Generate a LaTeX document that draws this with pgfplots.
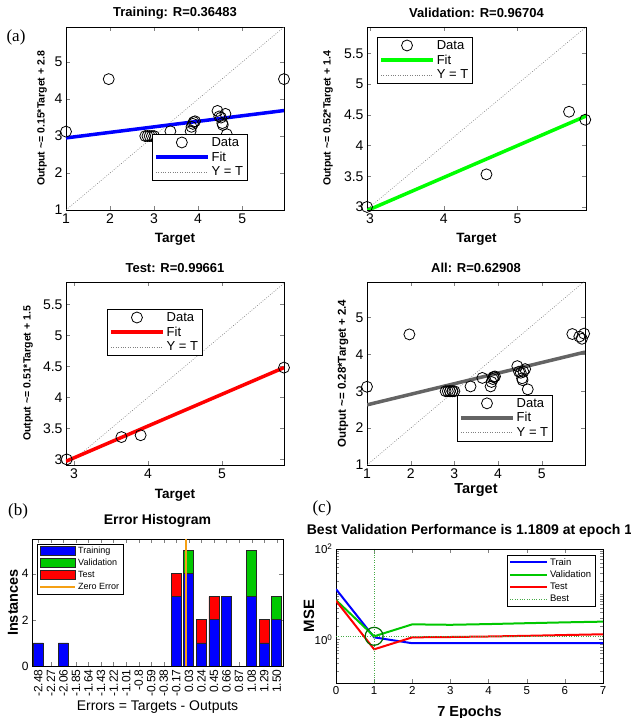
\documentclass[border=0pt]{standalone}
\usepackage{pgfplots}
\pgfplotsset{compat=1.18}
\usepackage{fontspec}
\setmainfont{Liberation Sans}
\newfontfamily\serifpanel{Liberation Serif}

\definecolor{mblue}{RGB}{0,0,255}
\definecolor{mgreen}{RGB}{0,255,0}
\definecolor{hgreen}{RGB}{0,200,0}
\definecolor{mred}{RGB}{255,0,0}
\definecolor{mgray}{RGB}{100,100,100}
\definecolor{morange}{RGB}{245,160,20}
\definecolor{bestgreen}{RGB}{70,170,70}
\definecolor{circgreen}{RGB}{0,110,0}

\pgfplotsset{
  reg/.style={
    scale only axis, width=218pt, height=183pt, anchor=south west,
    /pgf/number format/assume math mode=true,
    tick label style={font=\fontsize{14}{16}\selectfont},
    title style={font=\bfseries\fontsize{13}{15}\selectfont, at={(axis description cs:0.5,1.044)}, anchor=center},
    xlabel style={font=\bfseries\fontsize{13.5}{15}\selectfont, at={(axis description cs:0.5,-0.158)}, anchor=center},
    ylabel style={font=\bfseries\fontsize{10.5}{12}\selectfont, anchor=center},
    legend style={font=\fontsize{13}{14}\selectfont, draw=black, anchor=north west, inner xsep=2pt, inner ysep=1pt},
    legend cell align=left,
    legend image code/.code={\draw[mark repeat=2,mark phase=2,##1] plot coordinates {(0pt,0pt) (26pt,0pt) (52pt,0pt)};},
    axis line style={line width=0.6pt},
  },
  datam/.style={only marks, mark=o, mark size=5.5pt, black, line width=0.8pt},
  yeqt/.style={gray, line width=0.6pt, dash pattern=on 0.8pt off 1.6pt},
  hpatch/.style={draw=black!85, line width=0.8pt, legend image code/.code={\draw[##1] (0pt,-4.5pt) rectangle (35pt,4.5pt);}},
  hline/.style={legend image code/.code={\draw[##1] (0pt,0pt) -- (35pt,0pt);}},
  pline/.style={legend image code/.code={\draw[##1] (0pt,0pt) -- (37pt,0pt);}},
}

\begin{document}
\begin{tikzpicture}[x=1pt,y=1pt]

% (a) Training
\begin{axis}[reg, at={(66pt,508pt)},
  xmin=1, xmax=5.95, ymin=1, ymax=5.95, xtick={1,2,3,4,5}, ytick={1,2,3,4,5},
  title={Training: R=0.36483}, xlabel={Target},
  ylabel={Output \textasciitilde= 0.15*Target + 2.8},
  ylabel style={at={(axis description cs:-0.11,0.5)}},
  legend style={at={(axis description cs:0.394,0.415)}}]
\addplot[yeqt, forget plot] coordinates {(1,1) (5.95,5.95)};
\addplot[mblue, line width=3.5pt, forget plot] coordinates {(1,2.95) (5.95,3.69)};
\addplot[datam, forget plot] coordinates {
  (1,3.12) (1.97,4.54) (5.95,4.54) (2.8,3.0) (2.85,3.0) (2.9,3.0) (2.95,3.0) (3.0,3.0)
  (3.37,3.13) (3.83,3.13) (3.85,3.25) (3.88,3.33) (3.9,3.38) (3.93,3.4)
  (4.44,3.68) (4.48,3.53) (4.52,3.5) (4.55,3.35) (4.56,3.3) (4.62,3.6) (4.65,3.05)};
\addlegendimage{datam}\addlegendentry{Data}
\addlegendimage{mblue, line width=3.5pt}\addlegendentry{Fit}
\addlegendimage{yeqt}\addlegendentry{Y = T}
\end{axis}

% Validation
\begin{axis}[reg, at={(367pt,508pt)}, width=219pt,
  xmin=2.96, xmax=5.93, ymin=2.95, ymax=5.93, xtick={3,4,5}, ytick={3,3.5,4,4.5,5,5.5},
  title={Validation: R=0.96704}, xlabel={Target},
  ylabel={Output \textasciitilde= 0.52*Target + 1.4},
  ylabel style={at={(axis description cs:-0.178,0.5)}},
  legend style={at={(axis description cs:0.046,0.945)}}]
\addplot[yeqt, forget plot] coordinates {(2.95,2.95) (5.93,5.93)};
\addplot[mgreen, line width=3.5pt, forget plot] coordinates {(2.96,2.94) (5.93,4.48)};
\addplot[datam, forget plot] coordinates {(2.96,3.0) (4.58,3.53) (5.7,4.55) (5.92,4.42)};
\addlegendimage{datam}\addlegendentry{Data}
\addlegendimage{mgreen, line width=3.5pt}\addlegendentry{Fit}
\addlegendimage{yeqt}\addlegendentry{Y = T}
\end{axis}

% Test
\begin{axis}[reg, at={(66pt,253pt)},
  xmin=2.89, xmax=5.84, ymin=2.91, ymax=5.86, xtick={3,4,5}, ytick={3,3.5,4,4.5,5,5.5},
  title={Test: R=0.99661}, xlabel={Target},
  ylabel={Output \textasciitilde= 0.51*Target + 1.5},
  xlabel style={at={(axis description cs:0.5,-0.164)}},
  ylabel style={at={(axis description cs:-0.174,0.5)}},
  legend style={at={(axis description cs:0.188,0.852)}}]
\addplot[yeqt, forget plot] coordinates {(2.89,2.89) (5.86,5.86)};
\addplot[mred, line width=3.5pt, forget plot] coordinates {(2.89,2.97) (5.84,4.48)};
\addplot[datam, forget plot] coordinates {(2.9,3.0) (3.64,3.36) (3.9,3.39) (5.84,4.48)};
\addlegendimage{datam}\addlegendentry{Data}
\addlegendimage{mred, line width=3.5pt}\addlegendentry{Fit}
\addlegendimage{yeqt}\addlegendentry{Y = T}
\end{axis}

% All
\begin{axis}[reg, at={(367pt,253pt)},
  xmin=1, xmax=5.99, ymin=1, ymax=5.96, xtick={1,2,3,4,5}, ytick={1,2,3,4,5},
  title={All: R=0.62908}, xlabel={Target},
  ylabel={Output \textasciitilde= 0.28*Target + 2.4},
  xlabel style={at={(axis description cs:0.5,-0.137)}, font=\bfseries\fontsize{14.5}{16}\selectfont},
  ylabel style={at={(axis description cs:-0.11,0.5)}, font=\bfseries\fontsize{11.5}{13}\selectfont},
  legend style={at={(axis description cs:0.413,0.383)}}]
\addplot[yeqt, forget plot] coordinates {(1,1) (5.99,5.99)};
\addplot[mgray, line width=3.5pt, forget plot] coordinates {(1,2.63) (5.99,4.06)};
\addplot[datam, forget plot] coordinates {
  (1,3.12) (1.97,4.54) (5.97,4.56) (2.8,3.0) (2.85,3.0) (2.9,3.0) (2.95,3.0) (3.0,3.0)
  (3.37,3.13) (3.83,3.13) (3.85,3.25) (3.88,3.33) (3.9,3.38) (3.93,3.4)
  (4.44,3.68) (4.48,3.53) (4.52,3.5) (4.55,3.35) (4.56,3.3) (4.62,3.6) (4.68,3.05)
  (2.96,3.0) (4.58,3.53) (5.7,4.55) (5.92,4.42)
  (2.9,3.0) (3.64,3.36) (3.9,3.39) (5.86,4.48)};
\addlegendimage{datam}\addlegendentry{Data}
\addlegendimage{mgray, line width=3.5pt}\addlegendentry{Fit}
\addlegendimage{yeqt}\addlegendentry{Y = T}
\end{axis}

% (b) Error histogram
\begin{axis}[scale only axis, at={(32pt,52pt)}, anchor=south west, width=251pt, height=127pt,
  xmin=-0.5, xmax=19.5, ymin=0, ymax=5.5,
  ybar stacked, bar width=0.8,
  xtick={0,...,19},
  xticklabels={-2.48,-2.27,-2.06,-1.85,-1.64,-1.43,-1.22,-1.01,-0.8,-0.59,-0.38,-0.17,0.03,0.24,0.45,0.66,0.87,1.08,1.29,1.50},
  x tick label style={rotate=90, anchor=east, font=\fontsize{12}{13}\selectfont},
  y tick label style={font=\fontsize{12}{13}\selectfont},
  ytick={0,2,4},
  /pgf/number format/assume math mode=true,
  title={Error Histogram},
  title style={font=\bfseries\fontsize{14}{16}\selectfont, at={(axis description cs:0.5,1.094)}, anchor=center},
  xlabel={Errors = Targets - Outputs},
  xlabel style={font=\fontsize{14}{16}\selectfont, at={(axis description cs:0.5,-0.323)}, anchor=center},
  ylabel={Instances},
  ylabel style={font=\bfseries\fontsize{14.5}{16}\selectfont, at={(axis description cs:-0.076,0.5)}, anchor=center},
  legend style={at={(axis description cs:0.02,0.96)}, anchor=north west, font=\fontsize{9}{10}\selectfont, draw=black, inner xsep=2pt, inner ysep=1pt},
  legend cell align=left]
\addplot[hpatch, fill=mblue] coordinates {
  (0,1) (1,0) (2,1) (3,0) (4,0) (5,0) (6,0) (7,0) (8,0) (9,0)
  (10,0) (11,3) (12,4) (13,1) (14,2) (15,3) (16,0) (17,3) (18,1) (19,2)};
\addlegendentry{Training}
\addplot[hpatch, fill=hgreen] coordinates {
  (0,0) (1,0) (2,0) (3,0) (4,0) (5,0) (6,0) (7,0) (8,0) (9,0)
  (10,0) (11,0) (12,1) (13,0) (14,0) (15,0) (16,0) (17,2) (18,0) (19,1)};
\addlegendentry{Validation}
\addplot[hpatch, fill=mred] coordinates {
  (0,0) (1,0) (2,0) (3,0) (4,0) (5,0) (6,0) (7,0) (8,0) (9,0)
  (10,0) (11,1) (12,0) (13,1) (14,1) (15,0) (16,0) (17,0) (18,1) (19,0)};
\addlegendentry{Test}
\addlegendimage{hline, morange, line width=2pt}
\addlegendentry{Zero Error}
\end{axis}
\begin{axis}[scale only axis, at={(32pt,52pt)}, anchor=south west, width=251pt, height=127pt,
  xmin=-0.5, xmax=19.5, ymin=0, ymax=5.5, hide axis]
\addplot[morange, line width=2pt] coordinates {(11.81,0) (11.81,5.5)};
\end{axis}

% (c) Performance
\begin{axis}[scale only axis, at={(336pt,35pt)}, anchor=south west, width=267pt, height=134pt,
  xmin=0, xmax=7, ymode=log, ymin=0.11, ymax=100,
  xtick={0,...,7}, ytick={1,100},
  yticklabels={10\textsuperscript{0},10\textsuperscript{2}},
  minor ytick={0.2,0.3,0.4,0.5,0.6,0.7,0.8,0.9,2,3,4,5,6,7,8,9,10,20,30,40,50,60,70,80,90},
  tick label style={font=\fontsize{11.5}{13}\selectfont},
  /pgf/number format/assume math mode=true,
  title={Best Validation Performance is 1.1809 at epoch 1},
  title style={font=\bfseries\fontsize{14}{16}\selectfont, at={(axis description cs:0.5,1.09)}, anchor=center},
  xlabel={7 Epochs},
  xlabel style={font=\bfseries\fontsize{14.5}{16}\selectfont, at={(axis description cs:0.5,-0.22)}, anchor=center},
  ylabel={MSE},
  ylabel style={font=\bfseries\fontsize{15}{17}\selectfont, at={(axis description cs:-0.101,0.5)}, anchor=center},
  legend style={at={(axis description cs:0.64,0.955)}, anchor=north west, font=\fontsize{9.5}{11}\selectfont, draw=black, inner xsep=2pt, inner ysep=1pt},
  legend cell align=left]
\addplot[pline, mblue, line width=2pt] coordinates {(0,13) (1,1.12) (2,0.83) (3,0.83) (4,0.83) (5,0.83) (6,0.83) (7,0.83)};
\addlegendentry{Train}
\addplot[pline, hgreen, line width=2pt] coordinates {(0,7.45) (1,1.1809) (2,2.17) (3,2.12) (4,2.2) (5,2.3) (6,2.4) (7,2.49)};
\addlegendentry{Validation}
\addplot[pline, mred, line width=2pt] coordinates {(0,7.2) (1,0.61) (2,1.12) (3,1.14) (4,1.17) (5,1.21) (6,1.26) (7,1.31)};
\addlegendentry{Test}
\addplot[pline, bestgreen, line width=0.6pt, dash pattern=on 0.8pt off 1.6pt] coordinates {(1,0.11) (1,100)};
\addlegendentry{Best}
\addplot[bestgreen, line width=0.6pt, dash pattern=on 0.8pt off 1.6pt, forget plot] coordinates {(0,1.1809) (7,1.1809)};
\addplot[only marks, mark=o, mark size=9pt, draw=circgreen, line width=1.2pt, forget plot] coordinates {(1,1.1809)};
\end{axis}

\node[font=\serifpanel\fontsize{17}{19}\selectfont] at (16pt,681pt) {(a)};
\node[font=\serifpanel\fontsize{17}{19}\selectfont] at (18pt,207pt) {(b)};
\node[font=\serifpanel\fontsize{17}{19}\selectfont] at (322pt,210pt) {(c)};

\pgfresetboundingbox
\path[use as bounding box] (0pt,0pt) rectangle (631pt,718pt);
\end{tikzpicture}
\end{document}
